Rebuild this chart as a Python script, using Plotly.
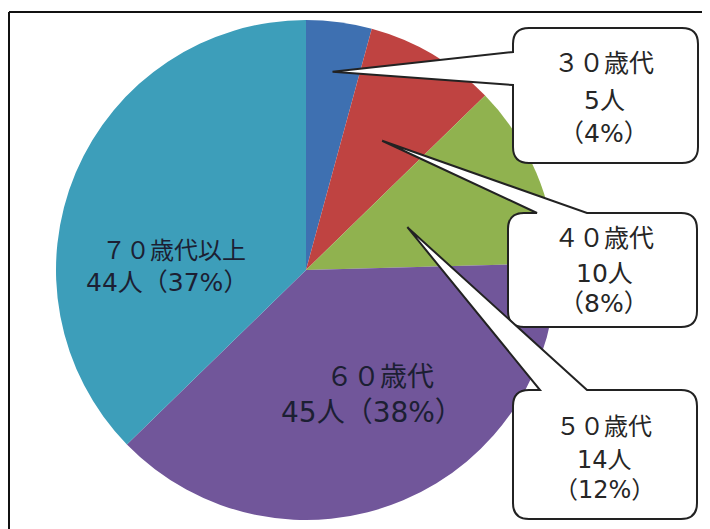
import math
import plotly.graph_objects as go

# ---- data ----
categories = ["３０歳代", "４０歳代", "５０歳代", "６０歳代", "７０歳代以上"]
counts = [5, 10, 14, 45, 44]
unit = "人"
colors = ["#3E70B1", "#BF4341", "#90B24F", "#71569A", "#3D9EBA"]

# page geometry: browser body margin of 8px is compensated
WIN_W, WIN_H = 710, 529
OFF = 8
W, H = WIN_W - OFF, WIN_H - OFF
FONT = "DejaVu Sans, Noto Sans CJK JP"

total = sum(counts)
pcts = [round(100 * c / total) for c in counts]

# pie geometry (window pixels)
CX, CY, R = 306, 270, 250


def px(x):
    return (x - OFF) / W


def py(y):
    return 1 - (y - OFF) / H


fig = go.Figure(
    go.Pie(
        labels=categories,
        values=counts,
        sort=False,
        direction="clockwise",
        rotation=0,
        marker=dict(colors=colors, line=dict(width=0)),
        textinfo="none",
        hoverinfo="skip",
        showlegend=False,
        domain=dict(x=[px(CX - R), px(CX + R)], y=[py(CY + R), py(CY - R)]),
    )
)

# slice mid angles (degrees clockwise from 12 o'clock)
mids = []
acc = 0
for c in counts:
    a0 = acc / total * 360
    acc += c
    a1 = acc / total * 360
    mids.append((a0 + a1) / 2)

tip_frac = [0.8, 0.6, 0.44]
tips = []
for i, f in enumerate(tip_frac):
    a = math.radians(mids[i])
    tips.append((CX + f * R * math.sin(a), CY - f * R * math.cos(a)))


def P(x, y):
    return f"{px(x):.5f},{py(y):.5f}"


def callout_path(x0, y0, x1, y1, r, side, b0, b1, tip):
    tx, ty = tip
    if side == "top":
        d = (f"M{P(x0 + r, y0)} L{P(b0, y0)} L{P(tx, ty)} L{P(b1, y0)} L{P(x1 - r, y0)} "
             f"Q{P(x1, y0)} {P(x1, y0 + r)} L{P(x1, y1 - r)} "
             f"Q{P(x1, y1)} {P(x1 - r, y1)} L{P(x0 + r, y1)} "
             f"Q{P(x0, y1)} {P(x0, y1 - r)} L{P(x0, y0 + r)} "
             f"Q{P(x0, y0)} {P(x0 + r, y0)} Z")
    else:
        d = (f"M{P(x0 + r, y0)} L{P(x1 - r, y0)} "
             f"Q{P(x1, y0)} {P(x1, y0 + r)} L{P(x1, y1 - r)} "
             f"Q{P(x1, y1)} {P(x1 - r, y1)} L{P(x0 + r, y1)} "
             f"Q{P(x0, y1)} {P(x0, y1 - r)} L{P(x0, b1)} "
             f"L{P(tx, ty)} L{P(x0, b0)} L{P(x0, y0 + r)} "
             f"Q{P(x0, y0)} {P(x0 + r, y0)} Z")
    return d


boxes = [
    dict(x0=513, y0=28, x1=698, y1=163, side="left", b0=52, b1=85),
    dict(x0=508, y0=213, x1=697, y1=327, side="top", b0=537, b1=587),
    dict(x0=513, y0=390, x1=697, y1=519, side="top", b0=540, b1=587),
]

shapes = []
for i, b in enumerate(boxes):
    shapes.append(dict(
        type="path", xref="paper", yref="paper",
        path=callout_path(b["x0"], b["y0"], b["x1"], b["y1"], 16, b["side"], b["b0"], b["b1"], tips[i]),
        fillcolor="white", line=dict(color="#222222", width=2), layer="above",
    ))

# frame lines (left and top)
shapes.append(dict(type="line", xref="paper", yref="paper", x0=px(9), x1=px(9), y0=py(12), y1=py(WIN_H),
                   line=dict(color="#111111", width=2)))
shapes.append(dict(type="line", xref="paper", yref="paper", x0=px(9), x1=px(WIN_W), y0=py(12), y1=py(12),
                   line=dict(color="#111111", width=2)))

annotations = []


def add_text(x, y, text, size, color):
    annotations.append(dict(
        x=px(x), y=py(y), xref="paper", yref="paper", showarrow=False,
        xanchor="center", yanchor="middle", align="center",
        text=text, font=dict(family=FONT, size=size, color=color),
    ))


# callout labels (one annotation per line)
box_lines_y = [(64, 101, 133), (238, 273, 303), (427, 460, 490)]
box_sizes = [25, 25, 24]
for i in range(3):
    lines = [categories[i], f"{counts[i]}{unit}", f"（{pcts[i]}%）"]
    for t, y in zip(lines, box_lines_y[i]):
        add_text(604, y, t, box_sizes[i], "#262626")

# inside labels
inside = {
    3: [(380, 376, 27), (372, 412, 28)],
    4: [(174, 251, 24), (167, 282, 25)],
}
for i, spec in inside.items():
    lines = [categories[i], f"{counts[i]}{unit}（{pcts[i]}%）"]
    for t, (x, y, s) in zip(lines, spec):
        add_text(x, y, t, s, "#1c1f33")

fig.update_layout(
    width=W, height=H,
    margin=dict(l=0, r=0, t=0, b=0),
    paper_bgcolor="white", plot_bgcolor="white",
    shapes=shapes, annotations=annotations,
    showlegend=False,
    font=dict(family=FONT),
)

fig.write_html("out.html")
